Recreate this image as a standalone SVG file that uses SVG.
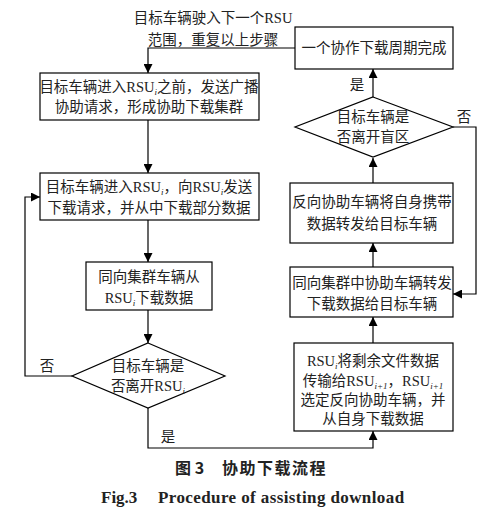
<svg xmlns="http://www.w3.org/2000/svg" width="491" height="512" viewBox="0 0 491 512">
<defs>
<marker id="ah" viewBox="0 0 10 10" refX="10" refY="5" markerWidth="9" markerHeight="9" markerUnits="userSpaceOnUse" orient="auto">
<path d="M0,0 L10,5 L0,10 Z" fill="#000"/>
</marker>
<style>
.box{fill:#fff;stroke:#000;stroke-width:1.2}
.ln{fill:none;stroke:#000;stroke-width:1.2}
.ar{fill:none;stroke:#000;stroke-width:1.2;marker-end:url(#ah)}
text{font-family:"Liberation Serif","Noto Sans CJK SC",serif;font-size:14.5px;fill:#222}
.c{text-anchor:middle}
.sub{font-size:9px;font-style:italic}
.cap{font-family:"Noto Sans CJK SC",sans-serif;font-size:16px;font-weight:bold}
.en{font-family:"Liberation Serif",serif;font-size:17px;font-weight:bold}
</style>
</defs>
<rect width="491" height="512" fill="#fff"/>
<g id="connectors">
<path class="ar" d="M295,48 H148 V73"/>
<path class="ar" d="M148,120 V173"/>
<path class="ar" d="M148,220 V262"/>
<path class="ar" d="M148,310 V343"/>
<path class="ar" d="M72,376 H25 V197 H40"/>
<path class="ar" d="M148,408 V448 H373 V431"/>
<path class="ar" d="M373,343 V317"/>
<path class="ar" d="M373,267 V243"/>
<path class="ar" d="M373,183 V158"/>
<path class="ar" d="M453,127 H476 V294 H453"/>
<path class="ar" d="M373,97 V69"/>
<text x="47" y="371" class="c">否</text>
<text x="168" y="442" class="c">是</text>
<text x="357" y="90" class="c">是</text>
<text x="464" y="122" class="c">否</text>
</g>
<g id="top-label">
<text x="213" y="23" class="c">目标车辆驶入下一个RSU</text>
<text x="213" y="45" class="c">范围，重复以上步骤</text>
</g>
<g id="n-broadcast">
<rect class="box" x="40" y="73" width="219" height="47"/>
<text x="149" y="92" class="c">目标车辆进入RSU<tspan class="sub" dy="3">i</tspan><tspan dy="-3">之前，发送广播</tspan></text>
<text x="149" y="112" class="c">协助请求，形成协助下载集群</text>
</g>
<g id="n-enter">
<rect class="box" x="40" y="173" width="219" height="47"/>
<text x="149" y="192" class="c">目标车辆进入RSU<tspan class="sub" dy="3">i</tspan><tspan dy="-3">，向RSU</tspan><tspan class="sub" dy="3">i</tspan><tspan dy="-3">发送</tspan></text>
<text x="149" y="213" class="c">下载请求，并从中下载部分数据</text>
</g>
<g id="n-cluster">
<rect class="box" x="86" y="262" width="126" height="48"/>
<text x="149" y="282" class="c">同向集群车辆从</text>
<text x="149" y="303" class="c">RSU<tspan class="sub" dy="3">i</tspan><tspan dy="-3">下载数据</tspan></text>
</g>
<g id="n-leave-rsu">
<polygon class="box" points="148,343 225,376 148,408 72,376"/>
<text x="148" y="371" class="c">目标车辆是</text>
<text x="148" y="391" class="c">否离开RSU<tspan class="sub" dy="3">i</tspan></text>
</g>
<g id="n-rsu-transfer">
<rect class="box" x="294" y="343" width="159" height="88"/>
<text x="373" y="366" class="c">RSU<tspan class="sub" dy="3">i</tspan><tspan dy="-3">将剩余文件数据</tspan></text>
<text x="373" y="386" class="c">传输给RSU<tspan class="sub" dy="3">i+1</tspan><tspan dy="-3">，RSU</tspan><tspan class="sub" dy="3">i+1</tspan></text>
<text x="373" y="405" class="c">选定反向协助车辆，并</text>
<text x="373" y="424" class="c">从自身下载数据</text>
</g>
<g id="n-forward-same">
<rect class="box" x="290" y="267" width="163" height="50"/>
<text x="372" y="288" class="c">同向集群中协助车辆转发</text>
<text x="372" y="309" class="c">下载数据给目标车辆</text>
</g>
<g id="n-forward-reverse">
<rect class="box" x="290" y="183" width="163" height="60"/>
<text x="372" y="207" class="c">反向协助车辆将自身携带</text>
<text x="372" y="229" class="c">数据转发给目标车辆</text>
</g>
<g id="n-leave-blind">
<polygon class="box" points="373,97 453,127 373,157 295,127"/>
<text x="373" y="122" class="c">目标车辆是</text>
<text x="373" y="142" class="c">否离开盲区</text>
</g>
<g id="n-done">
<rect class="box" x="295" y="27" width="158" height="42"/>
<text x="374" y="53" class="c">一个协作下载周期完成</text>
</g>
<g id="caption">
<text x="175" y="474" class="cap">图 3</text>
<text x="222" y="474" class="cap" letter-spacing="1.5">协助下载流程</text>
<text x="101" y="503" class="en">Fig.3</text>
<text x="158" y="503" class="en" letter-spacing="0.4">Procedure of assisting download</text>
</g>
</svg>
